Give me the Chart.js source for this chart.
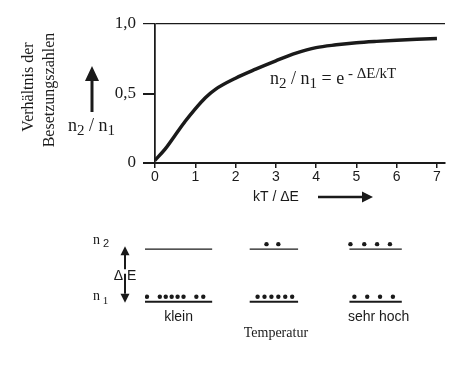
<!DOCTYPE html>
<html>
<head>
<meta charset="utf-8">
<script src="https://cdn.jsdelivr.net/npm/chart.js@4.4.1/dist/chart.umd.min.js"></script>
<style>
  html, body { margin: 0; padding: 0; background: #fff; }
  #wrap { position: relative; width: 469px; height: 368px; }
  canvas { display: block; }
</style>
</head>
<body>
<div id="wrap">
  <canvas id="curve" width="469" height="210"></canvas>
  <canvas id="levels" width="469" height="158"></canvas>
</div>
<script>
// Kurve n2/n1 gegen kT/ΔE
const ktValues = [0, 0.25, 0.5, 0.75, 1, 1.25, 1.5, 2, 2.5, 3, 3.5, 4, 4.5, 5, 5.5, 6, 6.5, 7];
const ratioValues = [0.02, 0.10, 0.20, 0.30, 0.39, 0.47, 0.53, 0.61, 0.675, 0.735, 0.79, 0.83, 0.85, 0.865, 0.875, 0.883, 0.89, 0.895];
const xTicks = [0, 1, 2, 3, 4, 5, 6, 7];
const yTicks = [0, 0.5, 1];
const yTickLabels = ['0', '0,5', '1,0'];

// Besetzung der beiden Niveaus bei drei Temperaturen
const groupNames = ['klein', '', 'sehr hoch'];
const levelStart = [0, 10.6, 20.7];
const levelEnd = [6.8, 15.5, 26.0];
const levelEnergy = [1, 2]; // n1, n2
const upperDots = [[], [12.3, 13.5], [20.8, 22.2, 23.5, 24.8]];
const lowerDots = [
  [0.2, 1.5, 2.1, 2.7, 3.3, 3.9, 5.2, 5.9],
  [11.4, 12.1, 12.8, 13.5, 14.2, 14.9],
  [21.2, 22.5, 23.8, 25.1]
];

const INK = '#1a1a1a';
const SERIF = '"Liberation Serif", "DejaVu Serif", serif';
const SANS = '"Liberation Sans", Arial, sans-serif';

function arrowHead(ctx, x, y, dir, len, half) {
  // dir: 'up' | 'down' | 'right'
  ctx.beginPath();
  if (dir === 'up') { ctx.moveTo(x, y); ctx.lineTo(x - half, y + len); ctx.lineTo(x + half, y + len); }
  if (dir === 'down') { ctx.moveTo(x, y); ctx.lineTo(x - half, y - len); ctx.lineTo(x + half, y - len); }
  if (dir === 'right') { ctx.moveTo(x, y); ctx.lineTo(x - len, y - half); ctx.lineTo(x - len, y + half); }
  ctx.closePath();
  ctx.fill();
}

// schreibt Textteile nacheinander (für Indizes / Exponenten)
function drawRun(ctx, x, parts) {
  let cx = x;
  parts.forEach(p => {
    ctx.font = p.font;
    ctx.fillText(p.text, cx, p.y);
    cx += ctx.measureText(p.text).width;
  });
}

const curveLabels = {
  id: 'curveLabels',
  afterDraw(chart) {
    const ctx = chart.ctx;
    ctx.save();
    ctx.fillStyle = INK;
    ctx.strokeStyle = INK;

    // y-Titel, gedreht
    ctx.font = '16px ' + SERIF;
    ctx.textAlign = 'center';
    ctx.textBaseline = 'middle';
    ctx.save(); ctx.translate(29, 87); ctx.rotate(-Math.PI / 2); ctx.fillText('Verhältnis der', 0, 0); ctx.restore();
    ctx.save(); ctx.translate(50, 90); ctx.rotate(-Math.PI / 2); ctx.fillText('Besetzungszahlen', 0, 0); ctx.restore();

    // Pfeil nach oben mit n2 / n1
    ctx.lineWidth = 3;
    ctx.beginPath(); ctx.moveTo(92, 112); ctx.lineTo(92, 78); ctx.stroke();
    arrowHead(ctx, 92, 66, 'up', 15, 7);
    ctx.textAlign = 'left';
    ctx.textBaseline = 'alphabetic';
    drawRun(ctx, 68, [
      { text: 'n', font: '18px ' + SERIF, y: 131 },
      { text: '2', font: '15px ' + SERIF, y: 135 },
      { text: ' / n', font: '18px ' + SERIF, y: 131 },
      { text: '1', font: '15px ' + SERIF, y: 135 }
    ]);

    // Formel
    drawRun(ctx, 270, [
      { text: 'n', font: '18px ' + SERIF, y: 84 },
      { text: '2', font: '15px ' + SERIF, y: 88 },
      { text: ' / n', font: '18px ' + SERIF, y: 84 },
      { text: '1', font: '15px ' + SERIF, y: 88 },
      { text: ' = e', font: '18px ' + SERIF, y: 84 },
      { text: ' - ΔE/kT', font: '15px ' + SERIF, y: 78 }
    ]);

    // x-Titel mit Pfeil
    ctx.font = '14px ' + SANS;
    ctx.textBaseline = 'middle';
    ctx.fillText('kT / ΔE', 253, 197);
    ctx.lineWidth = 2.5;
    ctx.beginPath(); ctx.moveTo(318, 197); ctx.lineTo(364, 197); ctx.stroke();
    arrowHead(ctx, 373, 197, 'right', 11, 5.5);
    ctx.restore();
  }
};

new Chart(document.getElementById('curve'), {
  type: 'line',
  data: {
    datasets: [{
      data: ktValues.map((x, i) => ({ x: x, y: ratioValues[i] })),
      borderColor: INK,
      borderWidth: 3.5,
      pointRadius: 0,
      cubicInterpolationMode: 'monotone',
      fill: false
    }]
  },
  options: {
    responsive: false,
    animation: false,
    layout: { padding: { top: 24, right: 24, left: 0, bottom: 0 } },
    plugins: { legend: { display: false }, tooltip: { enabled: false } },
    scales: {
      x: {
        type: 'linear',
        min: 0,
        max: 7.2,
        afterBuildTicks: s => { s.ticks = xTicks.map(v => ({ value: v })); },
        afterFit: s => { s.height = 47; },
        grid: {
          color: c => (c.tick && c.tick.value === 0) ? INK : 'transparent',
          tickColor: INK,
          tickLength: 5,
          lineWidth: 1.5
        },
        border: { display: true, color: INK, width: 2 },
        ticks: { color: INK, font: { family: SANS, size: 14 }, padding: 1, maxRotation: 0 }
      },
      y: {
        min: 0,
        max: 1,
        afterBuildTicks: s => { s.ticks = yTicks.map(v => ({ value: v })); },
        afterFit: s => { s.width = 155; },
        grid: {
          color: c => (c.tick && c.tick.value === 0.5) ? 'transparent' : INK,
          tickColor: INK,
          tickLength: 12,
          lineWidth: c => (c.tick && c.tick.value === 1) ? 1.2 : 2
        },
        border: { display: true, color: INK, width: 1.5 },
        ticks: {
          color: INK,
          font: { family: SERIF, size: 17 },
          padding: 7,
          callback: v => yTickLabels[yTicks.indexOf(v)]
        }
      }
    }
  },
  plugins: [curveLabels]
});

// --- unteres Schema: Niveaus und Teilchen ---
const DOT_LIFT = 0.095;
const levelSets = [];
levelStart.forEach((x0, g) => {
  levelEnergy.forEach((e, k) => {
    levelSets.push({
      data: [{ x: x0, y: e }, { x: levelEnd[g], y: e }],
      showLine: true,
      borderColor: INK,
      borderWidth: k === 0 ? 2 : 1.4,
      pointRadius: 0
    });
  });
});
const dotPoints = [];
lowerDots.forEach(list => list.forEach(x => dotPoints.push({ x: x, y: levelEnergy[0] + DOT_LIFT })));
upperDots.forEach(list => list.forEach(x => dotPoints.push({ x: x, y: levelEnergy[1] + DOT_LIFT })));

const levelLabels = {
  id: 'levelLabels',
  afterDraw(chart) {
    const ctx = chart.ctx;
    const xs = chart.scales.x, ys = chart.scales.y;
    const yUp = ys.getPixelForValue(levelEnergy[1]);
    const yLo = ys.getPixelForValue(levelEnergy[0]);
    ctx.save();
    ctx.fillStyle = INK;
    ctx.strokeStyle = INK;
    ctx.textAlign = 'left';
    ctx.textBaseline = 'alphabetic';
    drawRun(ctx, 93, [
      { text: 'n', font: '14px ' + SERIF, y: yUp - 5 },
      { text: ' 2', font: '11px ' + SANS, y: yUp - 2 }
    ]);
    drawRun(ctx, 93, [
      { text: 'n', font: '14px ' + SERIF, y: yLo - 2 },
      { text: ' 1', font: '11px ' + SERIF, y: yLo + 2 }
    ]);

    // ΔE-Doppelpfeil
    const ax = 125;
    ctx.lineWidth = 2;
    ctx.beginPath(); ctx.moveTo(ax, yUp + 4); ctx.lineTo(ax, yUp + 20); ctx.stroke();
    arrowHead(ctx, ax, yUp - 3, 'up', 9, 4.5);
    ctx.beginPath(); ctx.moveTo(ax, yLo - 28); ctx.lineTo(ax, yLo - 8); ctx.stroke();
    arrowHead(ctx, ax, yLo + 1, 'down', 9, 4.5);
    ctx.font = '14px ' + SANS;
    ctx.textAlign = 'center';
    ctx.textBaseline = 'middle';
    ctx.fillText('Δ E', ax, (yUp + yLo) / 2 + 1);

    // Temperaturbeschriftung
    ctx.font = '14px ' + SANS;
    groupNames.forEach((name, g) => {
      if (!name) return;
      const cx = xs.getPixelForValue((levelStart[g] + levelEnd[g]) / 2);
      ctx.fillText(name, cx + (g === 2 ? 3 : 0), yLo + 15);
    });
    ctx.font = '14px ' + SERIF;
    ctx.fillText('Temperatur', xs.getPixelForValue((levelStart[1] + levelEnd[1]) / 2) + 2, yLo + 31);
    ctx.restore();
  }
};

new Chart(document.getElementById('levels'), {
  type: 'scatter',
  data: {
    datasets: levelSets.concat([{
      data: dotPoints,
      pointRadius: 2.2,
      pointBackgroundColor: INK,
      pointBorderWidth: 0,
      showLine: false
    }])
  },
  options: {
    responsive: false,
    animation: false,
    layout: { padding: { left: 145, right: 0, top: 0, bottom: 0 } },
    plugins: { legend: { display: false }, tooltip: { enabled: false } },
    scales: {
      x: { type: 'linear', display: false, min: 0, max: 32.4 },
      y: { type: 'linear', display: false, min: -0.18, max: 2.667 }
    }
  },
  plugins: [levelLabels]
});
</script>
</body>
</html>
